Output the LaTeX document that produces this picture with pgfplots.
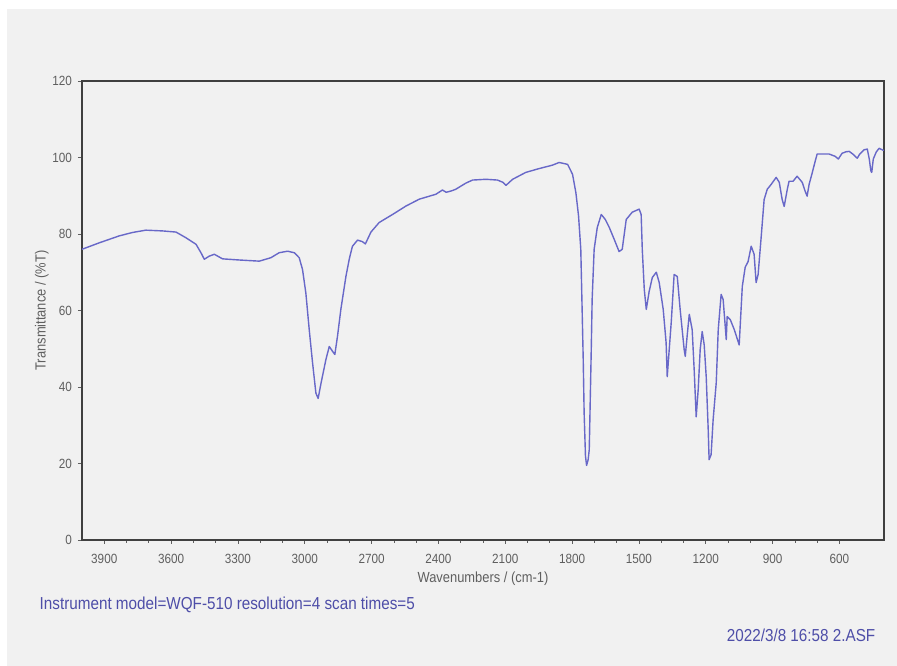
\documentclass[border=0pt]{standalone}
\usepackage{fontspec}
\setmainfont{Liberation Sans}
\newfontfamily\narrow[FakeStretch=0.88]{Liberation Sans}
\usepackage{pgfplots}
\pgfplotsset{compat=1.18}
\definecolor{bg}{RGB}{241,241,241}
\definecolor{spec}{RGB}{104,104,200}
\definecolor{txt}{RGB}{78,78,168}
\definecolor{tickc}{RGB}{95,95,95}
\begin{document}
\begin{tikzpicture}[x=0.75pt,y=0.75pt]
\path[use as bounding box] (0,0) rectangle (897,666);
\fill[white] (0,0) rectangle (897,666);
\fill[bg] (7,0) rectangle (897,657);
\begin{axis}[
  at={(61.5pt,94.5pt)}, anchor=south west,
  scale only axis, width=601.5pt, height=344.25pt,
  xmin=400, xmax=4000, x dir=reverse,
  ymin=0, ymax=120,
  xtick={600,900,...,3900}, minor x tick num=2,
  ytick={0,20,...,120},
  xtick pos=lower, ytick pos=left,
  tick align=outside,
  major tick length=3pt, minor tick length=2pt,
  every tick/.style={tickc, line width=0.5pt},
  axis line style={black!75, line width=1.1pt},
  /pgf/number format/assume math mode=true,
  /pgf/number format/set thousands separator={},
  xticklabel style={font=\narrow\fontsize{10}{11}\selectfont, text=tickc, yshift=-4pt},
  yticklabel style={font=\narrow\fontsize{10}{11}\selectfont, text=tickc, xshift=-1pt},
  xlabel={Wavenumbers / (cm-1)},
  ylabel={Transmittance / (\%T)},
  xlabel style={font=\narrow\fontsize{11}{12}\selectfont, text=tickc, at={(axis description cs:0.5,-0.085)}, anchor=center},
  ylabel style={font=\narrow\fontsize{11}{12}\selectfont, text=tickc, at={(axis description cs:-0.05,0.5)}, anchor=center},
  clip=true,
]
\addplot[spec, line width=1.05pt, line join=round] coordinates {
(4000,76.0) (3922,77.7) (3833,79.5) (3773,80.4) (3713,81.0) (3638,80.8)
(3578,80.5) (3533,79.0) (3488,77.3) (3466,75.1) (3451,73.4) (3429,74.2)
(3406,74.7) (3369,73.5) (3294,73.2) (3204,72.9) (3152,73.8) (3115,75.1)
(3077,75.5) (3047,75.1) (3025,73.8) (3010,70.7) (2995,64.5) (2980,55)
(2965,46.3) (2950,38.4) (2940,37.0) (2927,41.0) (2905,47.2) (2890,50.6)
(2875,49.3) (2865,48.5) (2853,53.3) (2838,60.3) (2815,69.0) (2800,73.5)
(2786,76.8) (2763,78.4) (2741,78.0) (2728,77.4) (2703,80.5) (2666,83.0)
(2606,85.1) (2546,87.3) (2486,89.1) (2411,90.4) (2382,91.5) (2365,90.9)
(2340,91.3) (2322,91.7) (2277,93.3) (2247,94.1) (2187,94.3) (2135,94.1)
(2110,93.5) (2097,92.7) (2067,94.3) (2008,96.1) (1948,97.1) (1888,98.0)
(1858,98.7) (1820,98.2) (1798,95.6) (1783,90.8) (1771,84.7) (1761,76.0)
(1755,60.3) (1750,47) (1746,33.3) (1740,22) (1735,19.5) (1728,21)
(1723,23.6) (1714,49.8) (1710,62.9) (1701,76) (1687,81.7) (1669,85.1)
(1651,83.8) (1633,81.7) (1611,78.6) (1589,75.4) (1575,76) (1557,83.8)
(1530,85.7) (1499,86.5) (1490,85.1) (1485,76) (1476,65.5) (1467,60.3)
(1454,65) (1440,68.6) (1422,70) (1409,67.3) (1391,60.3) (1378,51.6)
(1373,42.7) (1364,49.8) (1355,56.9) (1342,69.4) (1328,68.9) (1315,60.3)
(1297,49.8) (1292,48) (1283,53.7) (1274,59) (1261,55) (1252,44.5)
(1243,32.2) (1234,39.3) (1225,49.8) (1216,54.5) (1207,51) (1198,42.7)
(1189,28.8) (1185,21) (1176,22.3) (1167,31.4) (1153,41.1) (1144,55)
(1131,64.2) (1122,62.9) (1108,52.4) (1104,58.4) (1090,57.6) (1072,55)
(1050,51) (1036,66.3) (1023,71.3) (1010,72.8) (996,76.8) (983,74.7)
(974,67.3) (965,69.4) (951,79.4) (938,89) (924,91.7) (906,93)
(884,94.8) (870,93.5) (857,89) (848,87.2) (834,91.7) (826,93.8)
(808,93.8) (790,95.1) (767,93.5) (754,91.2) (745,89.9) (736,93)
(722,96) (709,99) (700,100.9) (673,100.9) (646,100.9) (619,100.3)
(605,99.6) (588,101.1) (570,101.5) (556,101.6) (538,100.8) (520,99.8)
(510,100.8) (490,102) (475,102.2) (466,99.6) (459,96.5) (455,96.1)
(448,99.6) (435,101.4) (422,102.4) (404,101.9) (400,101.9)
};
\end{axis}
\node[anchor=west, text=txt, font=\narrow\fontsize{13}{14}\selectfont] at (35,61) {Instrument model=WQF-510 resolution=4 scan times=5};
\node[anchor=east, text=txt, font=\narrow\fontsize{13}{14}\selectfont] at (880,31) {2022/3/8 16:58 2.ASF};
\end{tikzpicture}
\end{document}
